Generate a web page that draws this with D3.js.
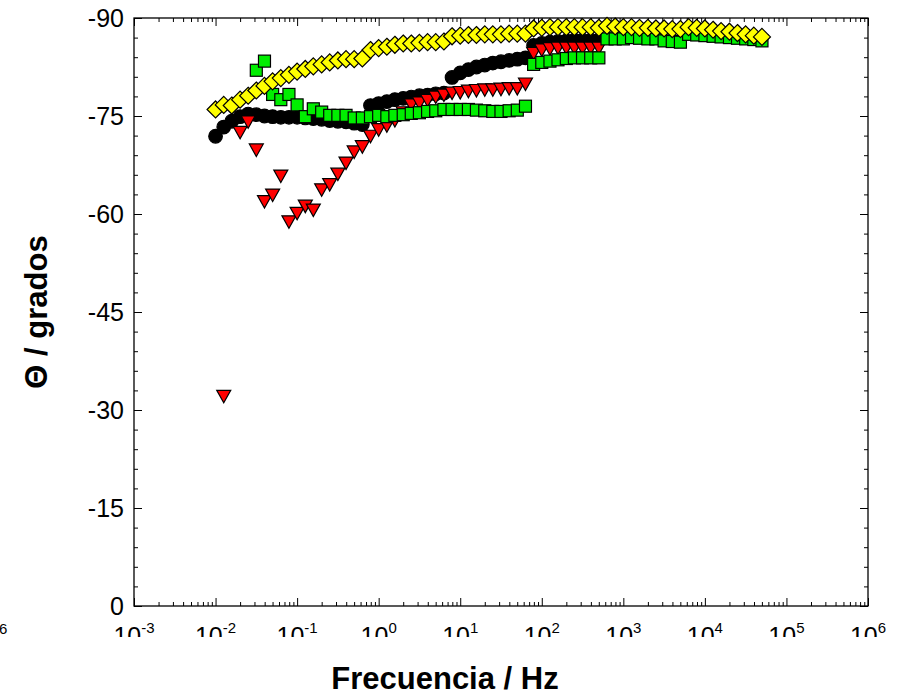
<!DOCTYPE html>
<html>
<head>
<meta charset="utf-8">
<script src="https://cdn.jsdelivr.net/npm/d3@7"></script>
<style>
  body { margin: 0; background: #fff; }
  svg { display: block; font-family: "Liberation Sans", Arial, sans-serif; }
</style>
</head>
<body>
<svg id="chart" width="902" height="696"></svg>
<script>
// Frequencies (Hz), ten points per decade
const frecuencias = [
  0.01, 0.0126, 0.0158, 0.02, 0.0251, 0.0316, 0.0398, 0.0501, 0.0631, 0.0794,
  0.1, 0.126, 0.158, 0.2, 0.251, 0.316, 0.398, 0.501, 0.631, 0.794,
  1, 1.26, 1.58, 2, 2.51, 3.16, 3.98, 5.01, 6.31, 7.94,
  10, 12.6, 15.8, 20, 25.1, 31.6, 39.8, 50.1, 63.1, 79.4,
  100, 126, 158, 200, 251, 316, 398, 501, 631, 794,
  1000, 1260, 1580, 2000, 2510, 3160, 3980, 5010, 6310, 7940,
  10000, 12600, 15800, 20000, 25100, 31600, 39800, 50100
];

// Phase angle (degrees) per series; null = no point at that frequency
const faseCirculos = [
  -71.9, -73.3, -74.2, -74.9, -75.3, -75.2, -75.0, -74.9, -74.8, -74.8,
  -74.8, -74.7, -74.6, -74.5, -74.3, -74.2, -74.1, -73.9, -73.7, -76.6,
  -76.9, -77.2, -77.5, -77.7, -77.9, -78.1, -78.2, -78.4, -78.5, -80.9,
  -81.6, -82.1, -82.5, -82.8, -83.1, -83.3, -83.5, -83.7, -83.9, -85.8,
  -86.1, -86.3, -86.4, -86.5, -86.6, -86.6, -86.6, -86.6, null, null,
  null, null, null, null, null, null, null, null, null, null,
  null, null, null, null, null, null, null, null
];

const faseTriangulos = [
  null, -32.1, null, -72.5, -74.1, -69.8, -61.9, -62.9, -65.8, -58.8,
  -60.1, -61.2, -60.6, -63.7, -64.5, -66.1, -67.8, -69.5, -70.3, -71.9,
  -72.9, -73.5, -74.3, -75.5, -76.7, -77.0, -77.4, -77.9, -78.2, -78.5,
  -78.6, -78.8, -78.9, -79.0, -79.0, -79.1, -79.2, -79.2, -79.9, -84.6,
  -85.1, -85.3, -85.4, -85.4, -85.4, -85.4, -85.4, -85.4, null, null,
  null, null, null, null, null, null, null, null, null, null,
  null, null, null, null, null, null, null, null
];

const faseCuadrados = [
  null, null, null, null, null, -82.0, -83.4, -78.3, -77.5, -78.3,
  -76.7, -74.9, -76.1, -75.6, -75.1, -75.1, -75.1, -74.7, -74.7, -74.9,
  -75.1, -74.9, -75.1, -75.2, -75.4, -75.5, -75.7, -75.8, -76.0, -76.0,
  -76.0, -76.0, -75.9, -75.8, -75.7, -75.7, -75.8, -75.9, -76.5, -82.9,
  -83.2, -83.4, -83.6, -83.8, -83.9, -83.9, -83.9, -83.9, -86.8, -86.8,
  -86.8, -87.0, -86.9, -86.8, -86.8, -86.5, -86.4, -86.3, -87.5, -87.4,
  -87.3, -87.2, -87.1, -87.0, -86.9, -86.8, -86.7, -86.5
];

const faseRombos = [
  -76.0, -76.7, -76.6, -77.5, -78.1, -78.9, -79.6, -80.3, -80.8, -81.3,
  -81.8, -82.2, -82.6, -82.9, -83.2, -83.5, -83.7, -83.7, -83.8, -85.1,
  -85.4, -85.6, -85.9, -86.1, -86.1, -86.2, -86.3, -86.3, -86.4, -87.2,
  -87.3, -87.4, -87.4, -87.5, -87.5, -87.5, -87.6, -87.6, -87.6, -88.4,
  -88.5, -88.6, -88.6, -88.6, -88.6, -88.6, -88.6, -88.5, -88.8, -88.7,
  -88.6, -88.6, -88.5, -88.5, -88.4, -88.4, -88.3, -88.3, -88.6, -88.5,
  -88.4, -88.2, -88.0, -87.9, -87.7, -87.5, -87.3, -87.1
];

// Axis ticks
const exponentesX = [-3, -2, -1, 0, 1, 2, 3, 4, 5, 6];
const ticksY = [0, -15, -30, -45, -60, -75, -90];
const ticksYMenores = [-3, -6, -9, -12, -18, -21, -24, -27, -33, -36, -39, -42,
  -48, -51, -54, -57, -63, -66, -69, -72, -78, -81, -84, -87];

const svg = d3.select("#chart");
const x = d3.scaleLog().domain([1e-3, 1e6]).range([134, 868]);
const y = d3.scaleLinear().domain([0, -90]).range([606, 18]);

const decadas = exponentesX.map(e => Math.pow(10, e));
const menoresX = [];
decadas.slice(0, -1).forEach(d => { for (let m = 2; m <= 9; m++) menoresX.push(d * m); });

// Inward-pointing ticks on all four sides
function sinDominio(g) { g.select(".domain").remove(); g.selectAll("line").attr("stroke", "#000"); }
const ejes = svg.append("g");
ejes.append("g").attr("transform", "translate(0,606)")
  .call(d3.axisBottom(x).tickValues(decadas).tickFormat("").tickSizeInner(-8).tickSizeOuter(0)).call(sinDominio);
ejes.append("g").attr("transform", "translate(0,606)")
  .call(d3.axisBottom(x).tickValues(menoresX).tickFormat("").tickSizeInner(-4).tickSizeOuter(0)).call(sinDominio);
ejes.append("g").attr("transform", "translate(0,18)")
  .call(d3.axisTop(x).tickValues(decadas).tickFormat("").tickSizeInner(-8).tickSizeOuter(0)).call(sinDominio);
ejes.append("g").attr("transform", "translate(0,18)")
  .call(d3.axisTop(x).tickValues(menoresX).tickFormat("").tickSizeInner(-4).tickSizeOuter(0)).call(sinDominio);

const ejeIzq = ejes.append("g").attr("transform", "translate(134,0)")
  .call(d3.axisLeft(y).tickValues(ticksY).tickFormat(d => String(d)).tickSizeInner(-8).tickSizeOuter(0).tickPadding(10))
  .call(sinDominio);
ejeIzq.selectAll("text").attr("font-size", 25).attr("fill", "#000")
  .attr("font-family", "'Liberation Sans', Arial, sans-serif");
ejes.append("g").attr("transform", "translate(134,0)")
  .call(d3.axisLeft(y).tickValues(ticksYMenores).tickFormat("").tickSizeInner(-4).tickSizeOuter(0)).call(sinDominio);
ejes.append("g").attr("transform", "translate(868,0)")
  .call(d3.axisRight(y).tickValues(ticksY).tickFormat("").tickSizeInner(-8).tickSizeOuter(0)).call(sinDominio);
ejes.append("g").attr("transform", "translate(868,0)")
  .call(d3.axisRight(y).tickValues(ticksYMenores).tickFormat("").tickSizeInner(-4).tickSizeOuter(0)).call(sinDominio);

// Plot frame
svg.append("rect").attr("x", 134).attr("y", 18).attr("width", 734).attr("height", 588)
  .attr("fill", "none").attr("stroke", "#000").attr("stroke-width", 1.3);

// Power-of-ten labels on the frequency axis (cut off at the lower edge of their band)
svg.append("clipPath").attr("id", "corteX").append("rect")
  .attr("x", 0).attr("y", 608).attr("width", 902).attr("height", 29);
const etiquetasX = svg.append("g").attr("clip-path", "url(#corteX)");
exponentesX.forEach(e => {
  const t = etiquetasX.append("text").attr("x", x(Math.pow(10, e))).attr("y", 645)
    .attr("text-anchor", "middle").attr("fill", "#000");
  t.append("tspan").attr("font-size", 25).text("10");
  t.append("tspan").attr("font-size", 15).attr("dy", -12).text(String(e));
});
svg.append("text").attr("x", -1).attr("y", 634).attr("font-size", 15).attr("fill", "#000").text("6");

// Series markers
function puntos(valores) {
  return frecuencias.map((f, i) => ({ f, v: valores[i] })).filter(d => d.v !== null);
}
const marcas = svg.append("g").attr("stroke", "#000").attr("stroke-width", 1.2);

marcas.append("g").selectAll("circle").data(puntos(faseCirculos)).join("circle")
  .attr("cx", d => x(d.f)).attr("cy", d => y(d.v)).attr("r", 6.8).attr("fill", "#000");

marcas.append("g").selectAll("path").data(puntos(faseTriangulos)).join("path")
  .attr("transform", d => `translate(${x(d.f)},${y(d.v)})`)
  .attr("d", "M-7,-6L7,-6L0,6.5Z").attr("fill", "#ff0000");

marcas.append("g").selectAll("rect").data(puntos(faseCuadrados)).join("rect")
  .attr("x", d => x(d.f) - 6).attr("y", d => y(d.v) - 6).attr("width", 12).attr("height", 12)
  .attr("fill", "#00ee00");

marcas.append("g").selectAll("path").data(puntos(faseRombos)).join("path")
  .attr("transform", d => `translate(${x(d.f)},${y(d.v)})`)
  .attr("d", "M0,-8.5L8.5,0L0,8.5L-8.5,0Z").attr("fill", "#ffff00");

// Axis titles
svg.append("text").attr("x", 445).attr("y", 689).attr("text-anchor", "middle")
  .attr("font-size", 31).attr("font-weight", "bold").attr("fill", "#000").text("Frecuencia / Hz");
svg.append("text").attr("transform", "translate(47,312) rotate(-90)").attr("text-anchor", "middle")
  .attr("font-size", 31).attr("font-weight", "bold").attr("fill", "#000").text("Θ / grados");
</script>
</body>
</html>
